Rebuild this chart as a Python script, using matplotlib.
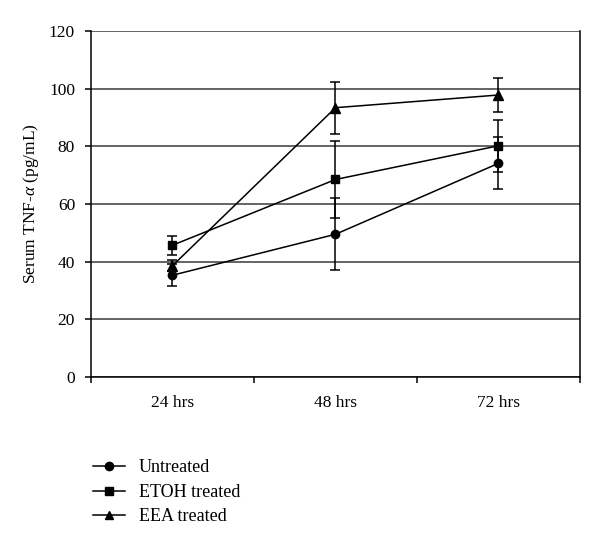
import matplotlib
matplotlib.use("Agg")
import matplotlib.pyplot as plt
from matplotlib.lines import Line2D

categories = ["24 hrs", "48 hrs", "72 hrs"]
untreated = [35.3, 49.5, 74.1]
untreated_err = [3.8, 12.5, 9.0]
etoh = [45.7, 68.5, 80.2]
etoh_err = [3.3, 13.4, 9.0]
eea = [38.6, 93.4, 97.8]
eea_err = [2.0, 9.0, 6.0]
series_names = ["Untreated", "ETOH treated", "EEA treated"]
yticks = [0, 20, 40, 60, 80, 100, 120]

plt.rcParams['font.family'] = ['Liberation Serif', 'DejaVu Serif']
plt.rcParams['mathtext.fontset'] = 'custom'
plt.rcParams['mathtext.it'] = 'Liberation Serif:italic'
plt.rcParams['mathtext.rm'] = 'Liberation Serif'

fig = plt.figure(figsize=(6.0, 5.47), dpi=100)
ax = fig.add_axes([91/600, 1-377/547, (580-91)/600, (377-31)/547])

x = list(range(len(categories)))
markers = ['o', 's', '^']
msizes = [6, 6, 6.5]
for vals, errs, m, ms, name in zip([untreated, etoh, eea], [untreated_err, etoh_err, eea_err], markers, msizes, series_names):
    ax.errorbar(x, vals, yerr=errs, color='black', marker=m, markersize=ms,
                linewidth=1.1, elinewidth=1.1, capsize=3.5, capthick=1.1, label=name)

ax.set_xlim(-0.5, 2.5)
ax.set_ylim(0, 120)
ax.set_yticks(yticks)
ax.set_xticks([-0.5, 0.5, 1.5, 2.5])
ax.set_xticklabels([])
ax.set_xticks(x, minor=True)
ax.set_xticklabels(categories, minor=True)
ax.tick_params(axis='x', which='minor', length=0, labelsize=12.5, pad=13)
ax.tick_params(axis='x', which='major', length=4, width=1.1, direction='out')
ax.tick_params(axis='y', length=4, width=1.1, direction='out', labelsize=12.5, pad=7.5)
ax.yaxis.grid(True, color='#3a3a3a', linewidth=1.1)
ax.set_axisbelow(True)
for s in ['left', 'bottom', 'right']:
    ax.spines[s].set_linewidth(1.1)
ax.spines['top'].set_visible(False)
ax.set_ylabel(r"Serum TNF-$\it{\alpha}$ (pg/mL)", fontsize=12.5, labelpad=6)

handles = [Line2D([0], [0], color='black', marker=m, markersize=6, linewidth=1.1) for m in markers]
fig.legend(handles, series_names, loc='upper left', bbox_to_anchor=(77/600, 1-443/547),
           frameon=False, fontsize=13, handlelength=1.75, labelspacing=0.42, handletextpad=0.78)

fig.savefig("out.png", dpi=100)
